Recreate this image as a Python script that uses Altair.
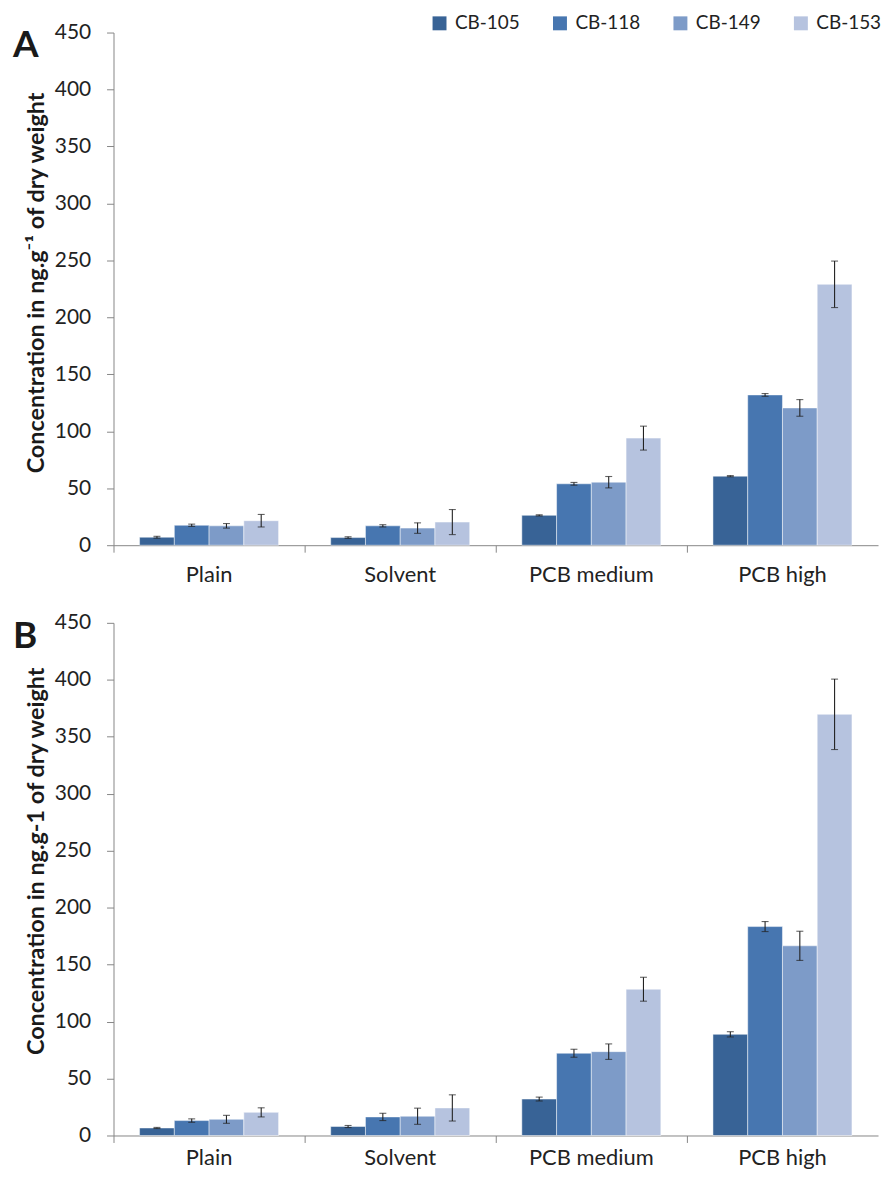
import altair as alt
import pandas as pd

categories = ["Plain", "Solvent", "PCB medium", "PCB high"]
congeners = ["CB-105", "CB-118", "CB-149", "CB-153"]
colors = ["#386396", "#4776B0", "#7D9BC8", "#B6C3DF"]
panel_letters = ["A", "B"]
y_titles = ["Concentration in ng.g\u207b\u00b9 of dry weight",
            "Concentration in ng.g-1 of dry weight"]
y_ticks = [0, 50, 100, 150, 200, 250, 300, 350, 400, 450]

# Panel A means (per congener, across categories) and errors
a_cb105 = [7.0, 6.7, 26.2, 60.6]
a_cb118 = [17.5, 17.0, 53.9, 131.9]
a_cb149 = [17.0, 15.0, 55.3, 120.5]
a_cb153 = [21.5, 20.3, 94.0, 229.0]
a_cb105_err = [0.8, 0.7, 0.5, 0.5]
a_cb118_err = [1.0, 1.0, 1.2, 1.2]
a_cb149_err = [2.0, 4.6, 5.0, 7.3]
a_cb153_err = [5.5, 11.0, 10.5, 20.4]

# Panel B means and errors
b_cb105 = [6.6, 7.9, 32.0, 88.8]
b_cb118 = [13.1, 16.3, 72.2, 183.4]
b_cb149 = [14.2, 16.9, 73.6, 166.5]
b_cb153 = [20.3, 24.2, 128.4, 369.7]
b_cb105_err = [0.5, 0.9, 1.7, 2.3]
b_cb118_err = [1.5, 3.2, 3.5, 4.4]
b_cb149_err = [3.5, 7.1, 6.8, 12.8]
b_cb153_err = [4.0, 11.5, 10.5, 30.9]

FONT = "Lato"


def make_df(means, errs):
    rows = []
    for cong, m_list, e_list in zip(congeners, means, errs):
        for cat, m, e in zip(categories, m_list, e_list):
            rows.append({"category": cat, "congener": cong, "value": m,
                         "lo": m - e, "hi": m + e})
    return pd.DataFrame(rows)


df_a = make_df([a_cb105, a_cb118, a_cb149, a_cb153],
               [a_cb105_err, a_cb118_err, a_cb149_err, a_cb153_err])
df_b = make_df([b_cb105, b_cb118, b_cb149, b_cb153],
               [b_cb105_err, b_cb118_err, b_cb149_err, b_cb153_err])


def panel(df, letter, ytitle, show_legend, title_y, x_label_pad):
    xenc = alt.X("category:N", sort=categories,
                 scale=alt.Scale(paddingInner=0, paddingOuter=0),
                 axis=alt.Axis(title=None, bandPosition=0, labelAngle=0,
                               tickSize=7, labelPadding=x_label_pad,
                               labelFontSize=22))
    xoff = alt.XOffset("congener:N", sort=congeners,
                       scale=alt.Scale(paddingInner=0, paddingOuter=0.75))
    yscale = alt.Scale(domain=[0, 450], nice=False)
    if show_legend:
        leg = alt.Legend(title=None, orient="none", legendX=318, legendY=-19,
                         direction="horizontal", symbolType="square",
                         symbolSize=196, symbolStrokeWidth=0, labelFont=FONT,
                         labelFontSize=19, labelColor="#222222", labelOffset=6,
                         columnPadding=30, padding=0)
    else:
        leg = None
    base = alt.Chart(df).encode(x=xenc, xOffset=xoff)
    bars = base.mark_bar(stroke="white", strokeWidth=0.8, strokeOpacity=0.6).encode(
        y=alt.Y("value:Q", scale=yscale,
                axis=alt.Axis(title=ytitle, values=y_ticks, grid=False,
                              tickSize=7, labelPadding=16, titlePadding=6,
                              labelFontSize=21, titleY=title_y,
                              titleAlign="center")),
        color=alt.Color("congener:N", sort=congeners,
                        scale=alt.Scale(domain=congeners, range=colors),
                        legend=leg),
    )
    rule = base.mark_rule(color="#222222", strokeWidth=1.1).encode(
        y=alt.Y("lo:Q", scale=yscale), y2="hi:Q")
    cap_lo = base.mark_tick(color="#222222", size=7, thickness=1.1).encode(
        y=alt.Y("lo:Q", scale=yscale))
    cap_hi = base.mark_tick(color="#222222", size=7, thickness=1.1).encode(
        y=alt.Y("hi:Q", scale=yscale))
    label = alt.Chart(pd.DataFrame({"t": [letter]})).mark_text(
        font=FONT, fontSize=37, fontWeight="bold", align="left",
        baseline="alphabetic", color="#1a1a1a").encode(
        text="t:N", x=alt.value(-101), y=alt.value(25))
    return alt.layer(bars, rule, cap_lo, cap_hi, label).properties(
        width=768, height=515)


chart = alt.vconcat(
    panel(df_a, panel_letters[0], y_titles[0], True, 251, 12),
    panel(df_b, panel_letters[1], y_titles[1], False, 239, 5),
    spacing=27,
).resolve_scale(color="independent").resolve_legend(color="independent").properties(
    padding={"left": 5, "top": 3, "right": 0, "bottom": -1}
).configure_view(stroke=None).configure_axis(
    domainColor="#868686", tickColor="#868686", labelColor="#222222",
    labelFont=FONT, titleFont=FONT, titleFontSize=23.5,
    titleFontWeight="bold", titleColor="#1a1a1a"
)

chart.save("out.html", embed_options={"renderer": "svg", "actions": False})
